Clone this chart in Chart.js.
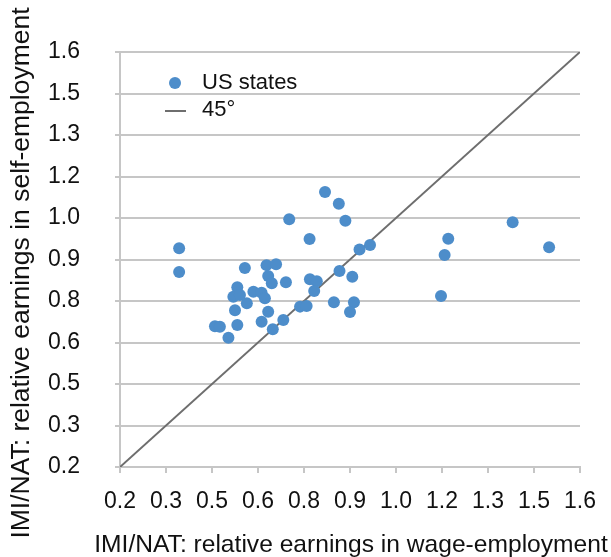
<!DOCTYPE html>
<html>
<head>
<meta charset="utf-8">
<script src="https://cdn.jsdelivr.net/npm/chart.js@4"></script>
<style>
  body { margin: 0; background: #fff; }
  #wrap { width: 611px; height: 557px; }
</style>
</head>
<body>
<div id="wrap"><canvas id="chart" width="611" height="557"></canvas></div>
<script>
// relative earnings of immigrants vs natives, one point per US state
const wageRatio = [
  0.380, 0.380, 0.580, 0.646, 0.675, 0.651, 0.662, 0.705, 0.557, 0.545,
  0.565, 0.606, 0.631, 0.641, 0.586, 0.550, 0.651, 0.489, 0.504, 0.557,
  0.631, 0.530, 0.665, 0.697, 0.824, 0.866, 0.886, 0.715, 0.777, 0.929,
  0.961, 0.778, 0.799, 0.791, 0.868, 0.907, 0.748, 0.768, 0.851, 0.912,
  0.900, 1.199, 1.188, 1.177, 1.395, 1.506
];
const selfRatio = [
  0.938, 0.858, 0.871, 0.881, 0.884, 0.844, 0.820, 0.823, 0.806, 0.774,
  0.780, 0.791, 0.788, 0.769, 0.752, 0.729, 0.724, 0.675, 0.673, 0.679,
  0.690, 0.636, 0.665, 0.696, 1.128, 1.088, 1.031, 1.036, 0.969, 0.934,
  0.949, 0.833, 0.827, 0.794, 0.861, 0.842, 0.741, 0.743, 0.756, 0.756,
  0.723, 0.970, 0.915, 0.777, 1.026, 0.941
];
const diagonal = [0.2, 1.6];

// the source axis has 10 equal steps between 0.2 and 1.6, labels rounded
const tickValues = [0.2, 0.34, 0.48, 0.62, 0.76, 0.9, 1.04, 1.18, 1.32, 1.46, 1.6];
const tickLabels = ['0.2', '0.3', '0.5', '0.6', '0.8', '0.9', '1.0', '1.2', '1.3', '1.5', '1.6'];

const xTitle = 'IMI/NAT: relative earnings in wage-employment';
const yTitle = 'IMI/NAT: relative earnings in self-employment';

const pointColor = '#4d8dca';
const lineColor = '#6e6e6e';
const gridColor = '#c6c6c6';
const font = 'Liberation Sans, Arial, Helvetica, sans-serif';

const points = wageRatio.map((x, i) => ({ x: x, y: selfRatio[i] }));

function setTicks(scale) {
  scale.ticks = tickValues.map(v => ({ value: v }));
}

// legend drawn inside the plot, top-left, like the original
const insideLegend = {
  id: 'insideLegend',
  afterDraw(chart) {
    const ctx = chart.ctx;
    const area = chart.chartArea;
    const x = area.left + 55;
    let y = area.top + 31;
    ctx.save();
    ctx.font = '22px ' + font;
    ctx.textBaseline = 'middle';
    chart.data.datasets.forEach(ds => {
      if (ds.type === 'line') {
        ctx.strokeStyle = ds.borderColor;
        ctx.lineWidth = 2;
        ctx.beginPath();
        ctx.moveTo(x - 10, y + 1);
        ctx.lineTo(x + 11, y + 1);
        ctx.stroke();
      } else {
        ctx.fillStyle = ds.backgroundColor;
        ctx.beginPath();
        ctx.arc(x, y, 6, 0, Math.PI * 2);
        ctx.fill();
      }
      ctx.fillStyle = '#111';
      ctx.fillText(ds.label, x + 27, y);
      y += 27;
    });
    ctx.restore();
  }
};

// axis titles are wider than the plot, so draw them unclipped
const axisTitles = {
  id: 'axisTitles',
  afterDraw(chart) {
    const ctx = chart.ctx;
    ctx.save();
    ctx.fillStyle = '#111';
    ctx.textAlign = 'center';
    ctx.textBaseline = 'middle';
    ctx.font = '24.6px ' + font;
    ctx.fillText(xTitle, 351, 545);
    ctx.font = '26.5px ' + font;
    ctx.translate(22, 273);
    ctx.rotate(-Math.PI / 2);
    ctx.fillText(yTitle, 0, 0);
    ctx.restore();
  }
};

const ctx = document.getElementById('chart').getContext('2d');
new Chart(ctx, {
  type: 'scatter',
  data: {
    datasets: [
      {
        label: 'US states',
        data: points,
        backgroundColor: pointColor,
        borderColor: pointColor,
        pointRadius: 6,
        borderWidth: 0,
        order: 1,
      },
      {
        type: 'line',
        label: '45°',
        data: diagonal.map(v => ({ x: v, y: v })),
        borderColor: lineColor,
        borderWidth: 2,
        pointRadius: 0,
        fill: false,
        order: 2,
      },
    ],
  },
  options: {
    responsive: false,
    animation: false,
    layout: { padding: { top: 52, right: 31, left: 0, bottom: 0 } },
    plugins: {
      legend: { display: false },
      tooltip: { enabled: false },
    },
    scales: {
      x: {
        type: 'linear',
        min: 0.2,
        max: 1.6,
        afterBuildTicks: setTicks,
        afterFit: s => { s.height = 90; },
        grid: { drawOnChartArea: false, drawTicks: true, tickLength: 6, color: gridColor, lineWidth: 2 },
        border: { color: gridColor, width: 2 },
        ticks: {
          autoSkip: false,
          maxRotation: 0,
          padding: 15,
          color: '#111',
          font: { family: font, size: 23 },
          callback: (v, i) => tickLabels[i],
        },
        title: { display: false },
      },
      y: {
        type: 'linear',
        min: 0.2,
        max: 1.6,
        afterBuildTicks: setTicks,
        afterFit: s => { s.width = 120; },
        grid: { drawTicks: true, tickLength: 5, color: gridColor, lineWidth: 2 },
        border: { color: gridColor, width: 2 },
        ticks: {
          autoSkip: false,
          padding: 35,
          color: '#111',
          font: { family: font, size: 23 },
          callback: (v, i) => tickLabels[i],
        },
        title: { display: false },
      },
    },
  },
  plugins: [insideLegend, axisTitles],
});
</script>
</body>
</html>
